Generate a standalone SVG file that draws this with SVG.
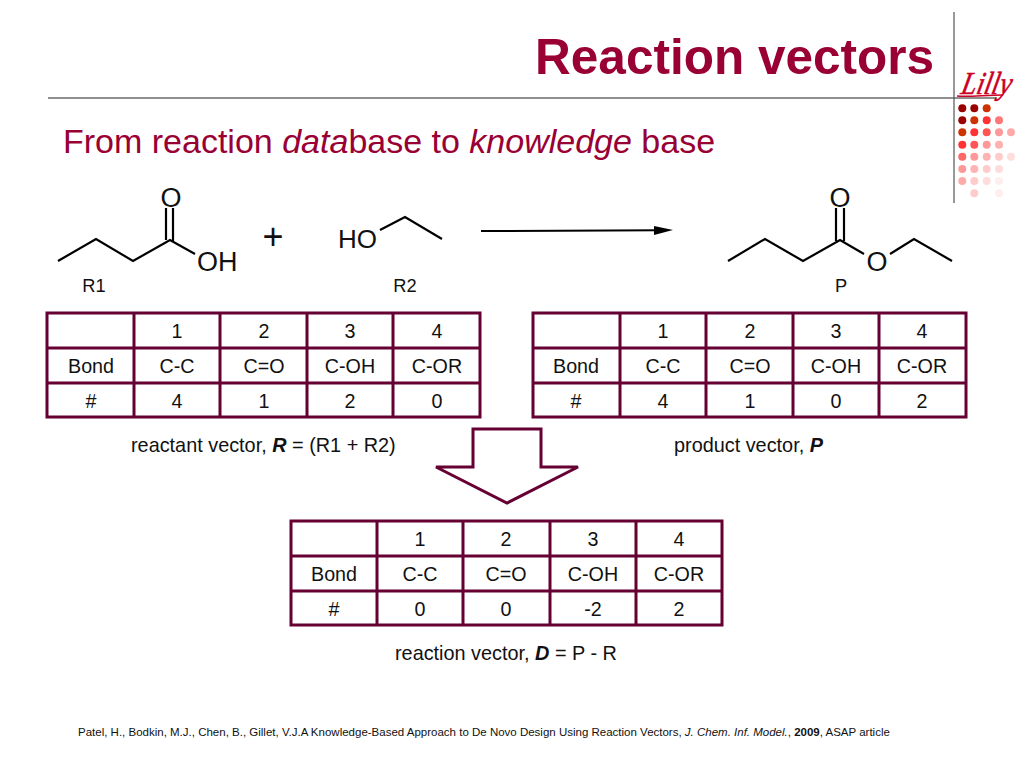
<svg xmlns="http://www.w3.org/2000/svg" width="1024" height="768" viewBox="0 0 1024 768">
<style>
text{font-family:"Liberation Sans",Arial,sans-serif;fill:#111}
.c{text-anchor:middle;font-size:19.7px}
.l{font-size:18.3px}
.cap{font-size:19.85px}
.a{font-size:27px;text-anchor:middle}
.b{fill:none;stroke:#000;stroke-width:2.2}
.g{fill:none;stroke:#660033;stroke-width:3}
</style>
<rect width="1024" height="768" fill="#fff"/>
<g id="frame">
<line x1="48" y1="98" x2="997" y2="98" stroke="#222" stroke-width="1.1"/>
<line x1="954" y1="12" x2="954" y2="203" stroke="#555" stroke-width="1.2"/>
<text transform="translate(960 94) skewX(-12)" x="0" y="0" style="font-family:'Liberation Serif',serif;font-size:32px;font-style:italic;fill:#cc0022;stroke:#cc0022;stroke-width:0.5" textLength="50" lengthAdjust="spacingAndGlyphs">Lilly</text>
<path d="M957 96C970 97 985 95 1003 95" fill="none" stroke="#cc0022" stroke-width="1.6"/>
</g>
<g id="dots">
<circle cx="962.3" cy="108.3" r="4" fill="#990000"/><circle cx="974.3" cy="108.3" r="4" fill="#990000"/><circle cx="986.7" cy="108.3" r="4" fill="#cc3300"/>
<circle cx="962.3" cy="120.3" r="4" fill="#990000"/><circle cx="974.3" cy="120.3" r="4" fill="#cc3300"/><circle cx="986.7" cy="120.3" r="4" fill="#ff3333"/><circle cx="999" cy="120.3" r="4" fill="#ff7777"/>
<circle cx="962.3" cy="132.3" r="4" fill="#cc3300"/><circle cx="974.3" cy="132.3" r="4" fill="#ff3333"/><circle cx="986.7" cy="132.3" r="4" fill="#ff5555"/><circle cx="999" cy="132.3" r="4" fill="#ff9999"/><circle cx="1011" cy="132.3" r="4" fill="#ffaaaa"/>
<circle cx="962.3" cy="144.7" r="4" fill="#ff3333"/><circle cx="974.3" cy="144.7" r="4" fill="#ff5555"/><circle cx="986.7" cy="144.7" r="4" fill="#ff9999"/><circle cx="999" cy="144.7" r="4" fill="#ffb0b0"/>
<circle cx="962.3" cy="156.7" r="4" fill="#ff6666"/><circle cx="974.3" cy="156.7" r="4" fill="#ff9999"/><circle cx="986.7" cy="156.7" r="4" fill="#ffb3b3"/><circle cx="999" cy="156.7" r="4" fill="#ffcccc"/><circle cx="1011" cy="156.7" r="4" fill="#ffdddd"/>
<circle cx="962.3" cy="169" r="4" fill="#ff9999"/><circle cx="974.3" cy="169" r="4" fill="#ffb3b3"/><circle cx="986.7" cy="169" r="4" fill="#ffcccc"/><circle cx="999" cy="169" r="4" fill="#ffdddd"/>
<circle cx="962.3" cy="181" r="4" fill="#ffaaaa"/><circle cx="974.3" cy="181" r="4" fill="#ffcccc"/><circle cx="986.7" cy="181" r="4" fill="#ffdddd"/><circle cx="999" cy="181" r="4" fill="#ffeeee"/>
<circle cx="974.3" cy="193.3" r="4" fill="#ffcccc"/><circle cx="999" cy="193.3" r="4" fill="#ffeeee"/>
</g>
<g id="title">
<text x="934" y="74" text-anchor="end" style="font-size:49.5px;font-weight:bold;fill:#990033">Reaction vectors</text>
<text x="63" y="153" style="font-size:34px;fill:#990033">From reaction <tspan font-style="italic">data</tspan>base to <tspan font-style="italic">knowledge</tspan> base</text>
</g>
<g id="r1">
<polyline class="b" points="58,261 96,239 133,261 170,240 195,254"/>
<line class="b" x1="166" y1="240" x2="166" y2="208"/><line class="b" x1="173" y1="241" x2="173" y2="208"/>
<text class="a" x="171" y="207">O</text><text x="197" y="271" style="font-size:27px">OH</text>
<text class="l" x="94" y="292" text-anchor="middle">R1</text>
</g>
<g id="plus"><text x="273" y="249" text-anchor="middle" style="font-size:36px">+</text></g>
<g id="r2">
<polyline class="b" points="380,230 405,217 442,239"/>
<text x="338" y="248" style="font-size:26px">HO</text>
<text class="l" x="405" y="292" text-anchor="middle">R2</text>
</g>
<g id="p">
<polyline class="b" points="728,261 765,239 803,261 840,240 864,254"/>
<polyline class="b" points="890,254 914,239 952,261"/>
<line class="b" x1="836" y1="241" x2="836" y2="208"/><line class="b" x1="844" y1="241" x2="844" y2="208"/>
<text class="a" x="840" y="207">O</text><text class="a" x="877" y="271">O</text>
<text class="l" x="841" y="292" text-anchor="middle">P</text>
</g>
<g id="connectors">
<line x1="481" y1="231" x2="660" y2="230.3" stroke="#000" stroke-width="2"/>
<polygon points="654,226 673,230 654,235" fill="#000"/>
<polygon points="473,429 541,429 541,467 578,467 507,503 436,467 473,467" fill="#fff" stroke="#660033" stroke-width="3"/>
</g>
<g id="table-r">
<rect class="g" x="47" y="313" width="433" height="104"/>
<path class="g" d="M134 313V417M220 313V417M307 313V417M393 313V417M47 348H480M47 383H480"/>
<text class="c" x="177" y="338">1</text><text class="c" x="264" y="338">2</text><text class="c" x="350" y="338">3</text><text class="c" x="437" y="338">4</text>
<text class="c" x="91" y="373">Bond</text><text class="c" x="177" y="373">C-C</text><text class="c" x="264" y="373">C=O</text><text class="c" x="350" y="373">C-OH</text><text class="c" x="437" y="373">C-OR</text>
<text class="c" x="91" y="408">#</text><text class="c" x="177" y="408">4</text><text class="c" x="264" y="408">1</text><text class="c" x="350" y="408">2</text><text class="c" x="437" y="408">0</text>
</g>
<g id="table-p">
<rect class="g" x="533" y="313" width="433" height="104"/>
<path class="g" d="M620 313V417M706 313V417M793 313V417M879 313V417M533 348H966M533 383H966"/>
<text class="c" x="663" y="338">1</text><text class="c" x="750" y="338">2</text><text class="c" x="836" y="338">3</text><text class="c" x="922" y="338">4</text>
<text class="c" x="576" y="373">Bond</text><text class="c" x="663" y="373">C-C</text><text class="c" x="750" y="373">C=O</text><text class="c" x="836" y="373">C-OH</text><text class="c" x="922" y="373">C-OR</text>
<text class="c" x="576" y="408">#</text><text class="c" x="663" y="408">4</text><text class="c" x="750" y="408">1</text><text class="c" x="836" y="408">0</text><text class="c" x="922" y="408">2</text>
</g>
<g id="table-d">
<rect class="g" x="291" y="521" width="431" height="104"/>
<path class="g" d="M377 521V625M463 521V625M550 521V625M636 521V625M291 556H722M291 591H722"/>
<text class="c" x="420" y="546">1</text><text class="c" x="506" y="546">2</text><text class="c" x="593" y="546">3</text><text class="c" x="679" y="546">4</text>
<text class="c" x="334" y="581">Bond</text><text class="c" x="420" y="581">C-C</text><text class="c" x="506" y="581">C=O</text><text class="c" x="593" y="581">C-OH</text><text class="c" x="679" y="581">C-OR</text>
<text class="c" x="334" y="616">#</text><text class="c" x="420" y="616">0</text><text class="c" x="506" y="616">0</text><text class="c" x="593" y="616">-2</text><text class="c" x="679" y="616">2</text>
</g>
<g id="captions">
<text class="cap" x="131" y="451.5">reactant vector, <tspan font-weight="bold" font-style="italic">R</tspan> = (R1 + R2)</text>
<text class="cap" x="674" y="451.5">product vector, <tspan font-weight="bold" font-style="italic">P</tspan></text>
<text class="cap" x="395" y="659.5">reaction vector, <tspan font-weight="bold" font-style="italic">D</tspan> = P - R</text>
<text x="78" y="736" style="font-size:11.5px">Patel, H., Bodkin, M.J., Chen, B., Gillet, V.J.A Knowledge-Based Approach to De Novo Design Using Reaction Vectors, <tspan font-style="italic">J. Chem. Inf. Model.</tspan>, <tspan font-weight="bold">2009</tspan>, ASAP article</text>
</g>
</svg>
